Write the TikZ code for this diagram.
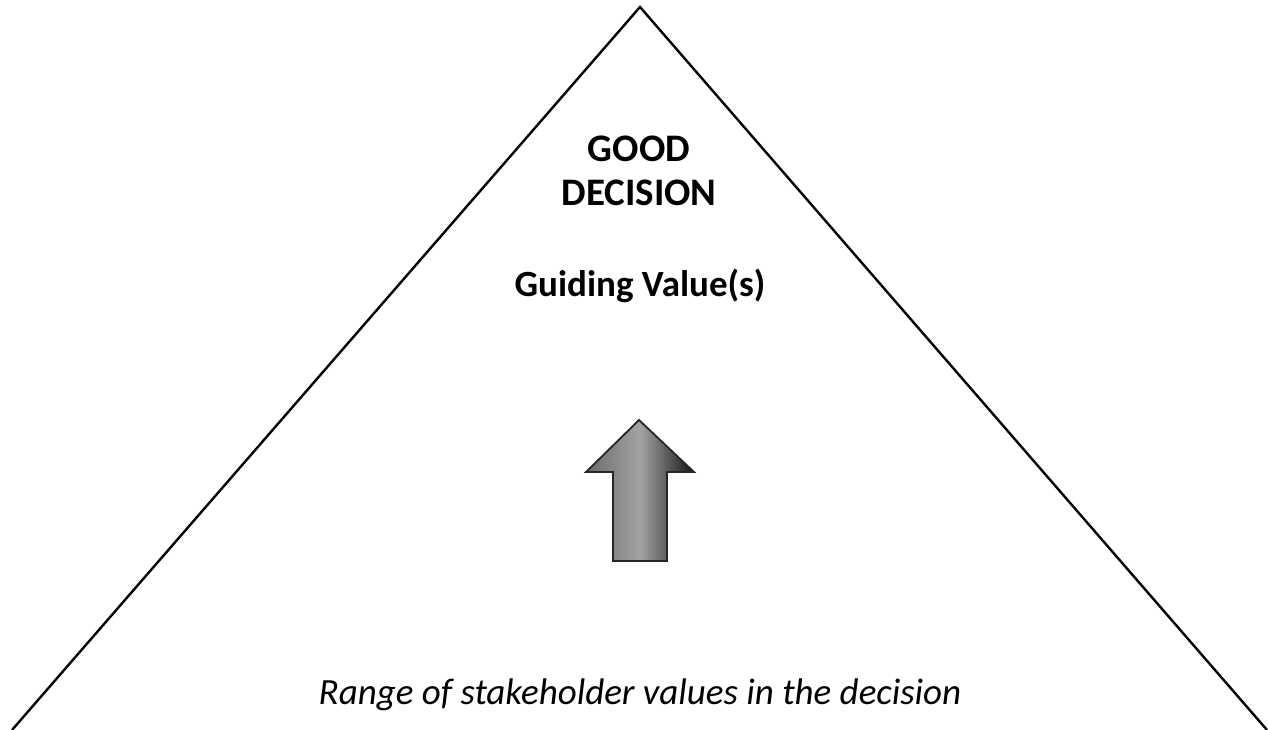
\documentclass[tikz,border=0pt]{standalone}
\usepackage{fontspec}
\setmainfont{Carlito}
\begin{document}
\begin{tikzpicture}[x=1pt,y=-1pt,
  heading/.style={font=\fontsize{39}{46}\selectfont\bfseries, anchor=base},
  subheading/.style={font=\fontsize{37}{44}\selectfont\bfseries, anchor=base},
  basetext/.style={font=\fontsize{37}{44}\selectfont\itshape, anchor=base}]
  \useasboundingbox (0,0) rectangle (1268,730);
  % pyramid outline
  \coordinate (apex) at (640,7);
  \coordinate (bl) at (12,730);
  \coordinate (br) at (1267,730);
  \draw[line width=2.4pt, line join=miter] (bl) -- (apex) -- (br);
  % labels
  \node[heading] (good) at (639,162) {GOOD};
  \node[heading] (decision) at (639,205) {DECISION};
  \node[subheading] (guiding) at (640,296) {Guiding Value(s)};
  \node[basetext] (range) at (640,704) {Range of stakeholder values in the decision};
  % upward block arrow with a metallic gradient
  \shade[left color=black!58, right color=black!92, middle color=black!36,
         draw=black!85, line width=1.8pt, line join=miter]
    (613,561) -- (613,472) -- (586,472) -- (639,420) -- (694,472) -- (667,472) -- (667,561) -- cycle;
\end{tikzpicture}
\end{document}
